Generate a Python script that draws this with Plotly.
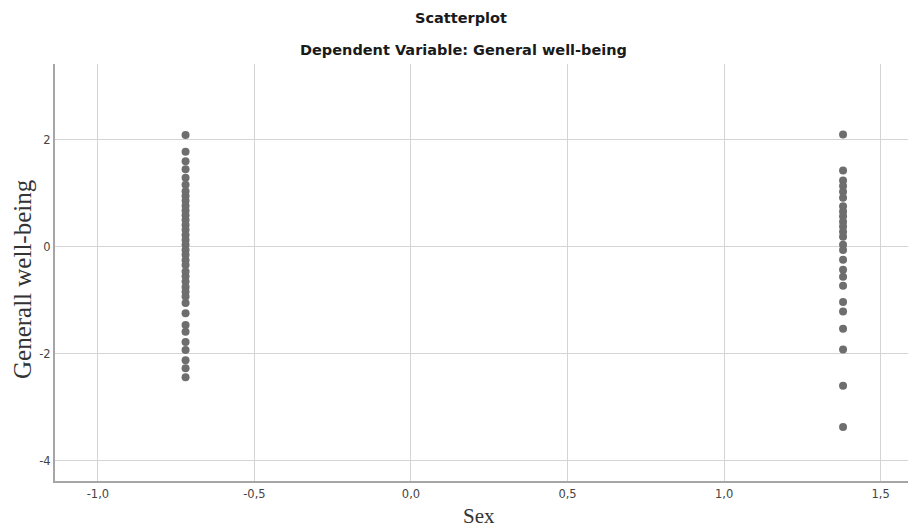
import plotly.graph_objects as go

# Data
female_x = -0.72
male_x = 1.38
female_y = [2.09, 1.78, 1.60, 1.45, 1.29, 1.16, 1.04, 0.95, 0.86, 0.77, 0.68, 0.59,
            0.50, 0.41, 0.32, 0.22, 0.13, 0.04, -0.06, -0.15, -0.25, -0.34, -0.46,
            -0.55, -0.65, -0.75, -0.84, -0.93, -1.05, -1.24, -1.46, -1.59, -1.78,
            -1.93, -2.12, -2.27, -2.44]
male_y = [2.10, 1.43, 1.24, 1.14, 1.03, 0.92, 0.76, 0.66, 0.57, 0.47, 0.38, 0.28,
          0.19, 0.04, -0.06, -0.24, -0.43, -0.56, -0.73, -1.03, -1.21, -1.53,
          -1.92, -2.60, -3.37]

x_ticks = [-1.0, -0.5, 0.0, 0.5, 1.0, 1.5]
x_ticklabels = ["-1,0", "-0,5", "0,0", "0,5", "1,0", "1,5"]
y_ticks = [2, 0, -2, -4]
y_ticklabels = ["2", "0", "-2", "-4"]

xs = [female_x] * len(female_y) + [male_x] * len(male_y)
ys = female_y + male_y

# page has an 8px body margin; figure sized so that the plot lands where the reference has it
W, H = 908, 521
L, R, T, B = 47, 0, 56, 48
PW, PH = W - L - R, H - T - B

fig = go.Figure()
fig.add_trace(go.Scatter(
    x=xs, y=ys, mode="markers",
    marker=dict(size=8, color="#6e6e6e", line=dict(width=0)),
    showlegend=False,
))

fig.update_layout(
    width=W, height=H,
    margin=dict(l=L, r=R, t=T, b=B, autoexpand=False),
    paper_bgcolor="white", plot_bgcolor="white",
)


def ann_y(page_y):
    return 1 + (T + 8 - page_y) / PH


def ann_x(page_x):
    return (page_x - 8 - L) / PW


title_font = dict(family="DejaVu Sans", size=14.5, color="#1a1a1a")
fig.add_annotation(text="<b>Scatterplot</b>", xref="paper", yref="paper",
                   x=ann_x(461), y=ann_y(18), yanchor="middle", xanchor="center", showarrow=False,
                   font=title_font)
fig.add_annotation(text="<b>Dependent Variable: General well-being</b>", xref="paper", yref="paper",
                   x=ann_x(463), y=ann_y(50), yanchor="middle", xanchor="center", showarrow=False,
                   font=title_font)

# axis titles
axis_title_font = dict(family="Liberation Serif, Times New Roman", color="#333")
fig.add_annotation(text="Sex", xref="paper", yref="paper",
                   x=ann_x(479), y=ann_y(516), yanchor="middle", xanchor="center", showarrow=False,
                   font=dict(size=21, **axis_title_font))
fig.add_annotation(text="Generall well-being", xref="paper", yref="paper",
                   x=ann_x(22), y=ann_y(279), yanchor="middle", xanchor="center", showarrow=False,
                   textangle=-90, font=dict(size=25, **axis_title_font))

tick_font = dict(family="DejaVu Sans", size=11.5, color="#444")
fig.update_xaxes(
    range=[-1.137, 1.613], tickvals=x_ticks, ticktext=x_ticklabels,
    showgrid=True, gridcolor="#d4d4d4", gridwidth=1,
    showline=True, linecolor="#a6a6a6", linewidth=2,
    zeroline=False, ticks="", ticklabelstandoff=1,
    tickfont=tick_font,
)
fig.update_yaxes(
    range=[-4.38, 3.42], tickvals=y_ticks, ticktext=y_ticklabels,
    showgrid=True, gridcolor="#d4d4d4", gridwidth=1,
    showline=True, linecolor="#a6a6a6", linewidth=2,
    zeroline=False, ticks="",
    tickfont=tick_font,
)

fig.write_html("out.html")
